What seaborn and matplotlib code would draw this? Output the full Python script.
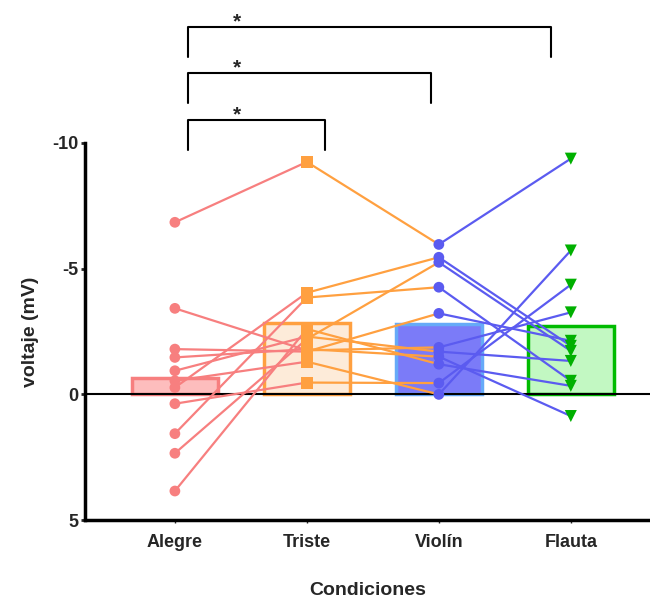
import matplotlib
matplotlib.use('Agg')
import matplotlib.pyplot as plt
import pandas as pd
import seaborn as sns

sns.set_style('white')
plt.rcParams['font.family'] = ['Liberation Sans', 'DejaVu Sans']
plt.rcParams['axes.unicode_minus'] = False

# Paired values per subject (mV)
condiciones = ['Alegre', 'Triste', 'Violín', 'Flauta']
alegre = [-6.84, -3.42, -1.80, -1.47, -0.94, -0.54, -0.27, 0.37, 1.56, 2.34, 3.84]
triste = [-9.24, -1.75, -1.70, -1.80, -2.30, -1.30, -4.04, -0.47, -3.85, -2.20, -2.60]
violin = [-5.96, -1.87, -3.22, -1.50, -1.70, 0.00, -5.45, -0.45, -4.26, -5.25, -1.20]
flauta = [-9.37, -3.26, -2.13, 0.86, -1.33, -5.72, -1.93, -4.36, -0.54, -1.73, -0.34]

line_colors = ['#F77F7F', '#FFA040', '#5B5BF0', '#00B000']
bar_fill = ['#FDBDBD', '#FDEBD9', '#7B7BF8', '#C2F8C2']
bar_edge = ['#F77F7F', '#FFA040', '#66AAF8', '#00BB00']
markers = ['o', 's', 'o', 'v']

# significance brackets: (cond a, cond b), all marked '*'
pares = [('Alegre', 'Triste'), ('Alegre', 'Violín'), ('Alegre', 'Flauta')]

series = [alegre, triste, violin, flauta]
rows = []
for i, (cond, vals) in enumerate(zip(condiciones, series)):
    for s, v in enumerate(vals):
        rows.append({'sujeto': s, 'condicion': cond, 'pos': i, 'voltaje': v})
df = pd.DataFrame(rows)

fig = plt.figure(figsize=(6.5, 6), dpi=100)
ax = fig.add_axes([0.131, 0.133, 0.869, 0.629])

sns.barplot(data=df, x='pos', y='voltaje', order=[0, 1, 2, 3], errorbar=None,
            width=0.65, native_scale=True, ax=ax, zorder=1)
for patch, fc, ec in zip(ax.patches, bar_fill, bar_edge):
    patch.set_facecolor(fc)
    patch.set_edgecolor(ec)
    patch.set_linewidth(2.5)

ax.axhline(0, color='black', lw=1.5, zorder=2)

# connecting lines between consecutive conditions
for i in range(len(condiciones) - 1):
    seg = df[df['pos'].isin([i, i + 1])]
    sns.lineplot(data=seg, x='pos', y='voltaje', units='sujeto', estimator=None,
                 color=line_colors[i], lw=1.6, ax=ax, zorder=3, legend=False)

for i, cond in enumerate(condiciones):
    sub = df[df['condicion'] == cond]
    sns.scatterplot(data=sub, x='pos', y='voltaje', marker=markers[i],
                    color=line_colors[i], s=75 if markers[i] != 'o' else 60,
                    edgecolor='none', ax=ax, zorder=4, legend=False)

ax.set_xlim(-0.68, 3.6)
ax.set_ylim(5, -10)
ax.set_yticks([-10, -5, 0, 5])
ax.set_xticks(range(len(condiciones)))
ax.set_xticklabels(condiciones)
for lab in ax.get_xticklabels() + ax.get_yticklabels():
    lab.set_fontweight('bold')
    lab.set_fontsize(13)
ax.tick_params(axis='y', length=3, width=2, pad=2, left=True)
ax.tick_params(axis='x', length=2, width=1, pad=8, bottom=True)

for side in ['top', 'right']:
    ax.spines[side].set_visible(False)
for side in ['left', 'bottom']:
    ax.spines[side].set_linewidth(2.5)
    ax.spines[side].set_color('black')

ax.set_xlabel('Condiciones', fontsize=14, fontweight='bold', labelpad=22)
ax.set_ylabel('voltaje (mV)', fontsize=14, fontweight='bold', labelpad=9)

# brackets above the plot
niveles = [(-10.92, -9.72), (-12.79, -11.59), (-14.6, -13.4)]
ajuste_der = [0.14, -0.06, -0.15]
for (a, b), (top, leg), dx in zip(pares, niveles, ajuste_der):
    xa = condiciones.index(a) + 0.1
    xb = condiciones.index(b) + dx
    ax.plot([xa, xa, xb, xb], [leg, top, top, leg], color='black', lw=1.5,
            clip_on=False, zorder=5)
    ax.text(condiciones.index(a) + 0.47, top - 0.2, '*', ha='center', va='center',
            fontsize=15, fontweight='bold', clip_on=False)

fig.savefig('out.png', dpi=100)
